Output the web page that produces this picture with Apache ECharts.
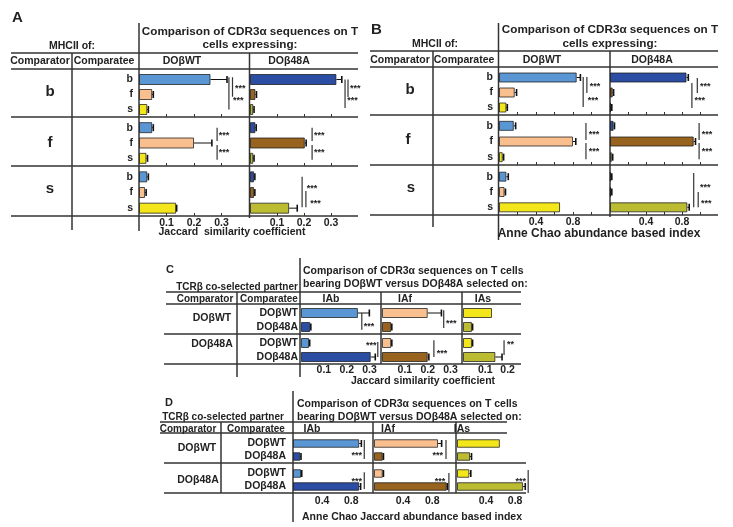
<!DOCTYPE html>
<html><head><meta charset="utf-8">
<script src="https://cdn.jsdelivr.net/npm/echarts@6/dist/echarts.min.js"></script>
<style>html,body{margin:0;padding:0;background:#fff}#c{width:733px;height:527px}</style>
</head><body><div id="c"></div>
<script>
const FONT = '"Liberation Sans", Arial, sans-serif';

// ---------------- DATA ----------------
const rowsAB = ['b', 'f', 's'];          // comparatee (panels A, B)
const groupsAB = ['b', 'f', 's'];        // comparator (panels A, B)
const rowsCD = ['DOβWT', 'DOβ48A'];      // comparatee (panels C, D)
const groupsCD = ['DOβWT', 'DOβ48A'];    // comparator (panels C, D)

// Panel A: Jaccard similarity coefficient, [comparator][comparatee]
const A_WT      = [[0.26, 0.048, 0.03], [0.048, 0.20, 0.027], [0.03, 0.022, 0.135]];
const A_WT_err  = [[0.06, 0.004, 0.004], [0.004, 0.065, 0.004], [0.004, 0.004, 0.002]];
const A_48A     = [[0.32, 0.02, 0.012], [0.02, 0.203, 0.012], [0.015, 0.015, 0.145]];
const A_48A_err = [[0.02, 0.004, 0.003], [0.003, 0.005, 0.003], [0.003, 0.003, 0.03]];

// Panel B: Anne Chao abundance based index
const B_WT      = [[0.84, 0.17, 0.08], [0.16, 0.80, 0.04], [0.08, 0.06, 0.66]];
const B_WT_err  = [[0.04, 0.02, 0.01], [0.02, 0.03, 0.01], [0.02, 0.01, 0.0]];
const B_48A     = [[0.85, 0.03, 0.01], [0.04, 0.93, 0.02], [0.01, 0.01, 0.86]];
const B_48A_err = [[0.02, 0.01, 0.01], [0.01, 0.02, 0.01], [0.01, 0.01, 0.02]];

// Panel C: Jaccard, per selecting MHC (IAb, IAf, IAs), [comparator][comparatee]
const C_IAb     = [[0.249, 0.04], [0.035, 0.305]];
const C_IAb_err = [[0.05, 0.003], [0.003, 0.02]];
const C_IAf     = [[0.20, 0.04], [0.04, 0.20]];
const C_IAf_err = [[0.06, 0.003], [0.003, 0.005]];
const C_IAs     = [[0.13, 0.04], [0.04, 0.145]];
const C_IAs_err = [[0.0, 0.003], [0.003, 0.03]];

// Panel D: Anne Chao Jaccard abundance based index
const D_IAb     = [[0.91, 0.10], [0.11, 0.91]];
const D_IAb_err = [[0.03, 0.01], [0.01, 0.02]];
const D_IAf     = [[0.88, 0.12], [0.12, 1.0]];
const D_IAf_err = [[0.05, 0.01], [0.01, 0.01]];
const D_IAs     = [[0.59, 0.18], [0.17, 0.91]];
const D_IAs_err = [[0.0, 0.02], [0.02, 0.03]];

// Tick labels
const ticksJacA = [0.1, 0.2, 0.3];
const ticksChaoB = [0.2, 0.4, 0.6, 0.8, 1.0];
const labelsChao = [0.4, 0.8];
const labelsJacIAs = [0.1, 0.2];

// Significance annotations: [block, x, rowFrom, rowTo]
const annLines = [
  ['A_WT_0', 0.327, -0.15, 2.0], ['A_WT_0', 0.340, -0.15, 1.15],
  ['A_48A_0', 0.352, 0.0, 1.9], ['A_48A_0', 0.363, 0.0, 1.17],
  ['A_WT_1', 0.284, 0.0, 0.87], ['A_WT_1', 0.284, 1.13, 2.1],
  ['A_48A_1', 0.23, 0.0, 0.87], ['A_48A_1', 0.23, 1.13, 2.1],
  ['A_48A_2', 0.193, 0.0, 1.94], ['A_48A_2', 0.207, 0.9, 1.94],
  ['B_WT_0', 0.91, -0.03, 1.97], ['B_WT_0', 0.95, -0.03, 1.03],
  ['B_48A_0', 0.91, 0.37, 2.03], ['B_48A_0', 0.97, 0.03, 1.03],
  ['B_WT_1', 0.94, -0.18, 0.91], ['B_WT_1', 0.94, 1.1, 2.13],
  ['B_48A_1', 0.99, -0.18, 0.91], ['B_48A_1', 0.99, 1.1, 2.13],
  ['B_48A_2', 0.93, -0.24, 2.0], ['B_48A_2', 0.98, 1.0, 2.0],
  ['C_IAb_0', 0.266, 0.0, 1.2], ['C_IAf_0', 0.27, -0.2, 1.07],
  ['C_IAb_1', 0.336, -0.07, 1.0], ['C_IAf_1', 0.227, -0.2, 1.0], ['C_IAs_1', 0.184, -0.2, 0.86],
  ['D_IAb_0', 0.98, -0.27, 1.2], ['D_IAf_0', 0.99, -0.27, 1.2],
  ['D_IAb_1', 0.98, -0.1, 1.2], ['D_IAf_1', 1.03, -0.04, 1.4], ['D_IAs_1', 0.98, -0.27, 1.5]
];
// [block, x, row, text, align]
const annStars = [
  ['A_WT_0', 0.349, 0.5, '***', 'left'], ['A_WT_0', 0.342, 1.3, '***', 'left'],
  ['A_48A_0', 0.37, 0.5, '***', 'left'], ['A_48A_0', 0.36, 1.3, '***', 'left'],
  ['A_WT_1', 0.29, 0.41, '***', 'left'], ['A_WT_1', 0.29, 1.46, '***', 'left'],
  ['A_48A_1', 0.237, 0.41, '***', 'left'], ['A_48A_1', 0.237, 1.46, '***', 'left'],
  ['A_48A_2', 0.21, 0.6, '***', 'left'], ['A_48A_2', 0.223, 1.6, '***', 'left'],
  ['B_WT_0', 0.98, 0.5, '***', 'left'], ['B_WT_0', 0.96, 1.37, '***', 'left'],
  ['B_48A_0', 1.0, 0.5, '***', 'left'], ['B_48A_0', 0.94, 1.37, '***', 'left'],
  ['B_WT_1', 0.97, 0.4, '***', 'left'], ['B_WT_1', 0.97, 1.5, '***', 'left'],
  ['B_48A_1', 1.02, 0.4, '***', 'left'], ['B_48A_1', 1.02, 1.5, '***', 'left'],
  ['B_48A_2', 1.0, 0.55, '***', 'left'], ['B_48A_2', 1.01, 1.6, '***', 'left'],
  ['C_IAb_0', 0.275, 0.85, '***', 'left'], ['C_IAf_0', 0.28, 0.64, '***', 'left'],
  ['C_IAb_1', 0.33, 0.07, '***', 'right'], ['C_IAf_1', 0.24, 0.64, '***', 'left'],
  ['C_IAs_1', 0.197, 0.0, '**', 'left'],
  ['D_IAb_0', 0.95, 0.8, '***', 'right'], ['D_IAf_0', 0.95, 0.8, '***', 'right'],
  ['D_IAb_1', 0.95, 0.5, '***', 'right'], ['D_IAf_1', 0.98, 0.5, '***', 'right'],
  ['D_IAs_1', 0.95, 0.5, '***', 'right']
];

// ---------------- STYLE / LAYOUT ----------------
const colWT = ['#5b96d4', '#f9bf8e', '#f3e71b'];
const col48 = ['#2c4da4', '#98621f', '#bcbc32'];
const INK = '#222';
const LINE = '#333';

const grids = [], xAxes = [], yAxes = [], series = [];
const blockIdx = {};

function errRender(params, api) {
  const v = api.value(0), i = api.value(1), e = api.value(2);
  if (!e) return null;
  const p0 = api.coord([v, i]), p1 = api.coord([v + e, i]);
  const h = 3.5;
  return { type: 'group', children: [
    { type: 'line', shape: { x1: p0[0], y1: p0[1], x2: p1[0], y2: p1[1] }, style: { stroke: '#111', lineWidth: 1 } },
    { type: 'line', shape: { x1: p1[0], y1: p1[1] - h, x2: p1[0], y2: p1[1] + h }, style: { stroke: '#111', lineWidth: 1.6 } }
  ]};
}

function addBlock(id, o) {
  const gi = grids.length; blockIdx[id] = gi;
  grids.push({ left: o.left, top: o.top, width: o.width, height: o.height });
  xAxes.push({
    type: 'value', gridIndex: gi, min: 0, max: o.max,
    axisLine: { show: false }, splitLine: { show: false },
    axisTick: { show: !!o.ticks, inside: true, length: 3, customValues: o.ticks || [], lineStyle: { color: LINE, width: 1 } },
    axisLabel: { show: !!o.labels, customValues: o.labels || [], margin: o.labelMargin, fontFamily: FONT,
      fontWeight: 'bold', fontSize: 10.5, color: INK }
  });
  yAxes.push({
    type: 'category', gridIndex: gi, data: o.cats, inverse: true,
    axisLine: { show: false }, axisTick: { show: false },
    axisLabel: { show: !!o.showCats, interval: 0, hideOverlap: false, margin: o.catMargin, fontFamily: FONT,
      fontWeight: 'bold', fontSize: 10.5, color: INK }
  });
  series.push({
    type: 'bar', xAxisIndex: gi, yAxisIndex: gi, barWidth: o.barWidth, silent: true, animation: false,
    itemStyle: { borderColor: 'rgba(25,25,25,0.75)', borderWidth: 1 },
    data: o.vals.map((v, i) => ({ value: v, itemStyle: { color: o.colors[i] } }))
  });
  series.push({
    type: 'custom', xAxisIndex: gi, yAxisIndex: gi, silent: true, animation: false, z: 3,
    encode: { x: 0, y: 1 }, data: o.vals.map((v, i) => [v, i, o.errs[i]]), renderItem: errRender
  });
}

// Panel A
const A_top = [72, 120, 169], A_h = [45, 46, 47];
groupsAB.forEach((g, k) => {
  addBlock('A_WT_' + k, { left: 139, top: A_top[k], width: 110, height: A_h[k], max: 0.4, cats: rowsAB,
    showCats: true, catMargin: 6, vals: A_WT[k], errs: A_WT_err[k], colors: colWT, ticks: ticksJacA,
    labels: k === 2 ? ticksJacA : null, labelMargin: 2, barWidth: 11 });
  addBlock('A_48A_' + k, { left: 250, top: A_top[k], width: 108, height: A_h[k], max: 0.4, cats: rowsAB,
    showCats: false, vals: A_48A[k], errs: A_48A_err[k], colors: col48, ticks: ticksJacA,
    labels: k === 2 ? ticksJacA : null, labelMargin: 2, barWidth: 11 });
});
// Panel B
const B_top = [70, 118, 169], B_h = [45, 47, 46];
groupsAB.forEach((g, k) => {
  addBlock('B_WT_' + k, { left: 499, top: B_top[k], width: 111, height: B_h[k], max: 1.2, cats: rowsAB,
    showCats: true, catMargin: 6, vals: B_WT[k], errs: B_WT_err[k], colors: colWT, ticks: ticksChaoB,
    labels: k === 2 ? labelsChao : null, labelMargin: 2, barWidth: 10 });
  addBlock('B_48A_' + k, { left: 610, top: B_top[k], width: 108, height: B_h[k], max: 1.2, cats: rowsAB,
    showCats: false, vals: B_48A[k], errs: B_48A_err[k], colors: col48, ticks: ticksChaoB,
    labels: k === 2 ? labelsChao : null, labelMargin: 2, barWidth: 10 });
});
// Panel C
const C_top = [306, 336], C_h = [28, 28];
groupsCD.forEach((g, k) => {
  addBlock('C_IAb_' + k, { left: 301, top: C_top[k], width: 80, height: C_h[k], max: 0.35, cats: rowsCD,
    showCats: true, catMargin: 3, vals: C_IAb[k], errs: C_IAb_err[k], colors: [colWT[0], col48[0]],
    labels: k === 1 ? ticksJacA : null, labelMargin: 1, barWidth: 10 });
  addBlock('C_IAf_' + k, { left: 382, top: C_top[k], width: 80, height: C_h[k], max: 0.35, cats: rowsCD,
    vals: C_IAf[k], errs: C_IAf_err[k], colors: [colWT[1], col48[1]],
    labels: k === 1 ? ticksJacA : null, labelMargin: 1, barWidth: 10 });
  addBlock('C_IAs_' + k, { left: 463, top: C_top[k], width: 58, height: C_h[k], max: 0.26, cats: rowsCD,
    vals: C_IAs[k], errs: C_IAs_err[k], colors: [colWT[2], col48[2]],
    labels: k === 1 ? labelsJacIAs : null, labelMargin: 1, barWidth: 10 });
});
// Panel D
const D_top = [437, 467], D_h = [26, 26];
groupsCD.forEach((g, k) => {
  addBlock('D_IAb_' + k, { left: 293, top: D_top[k], width: 80, height: D_h[k], max: 1.1, cats: rowsCD,
    showCats: true, catMargin: 7, vals: D_IAb[k], errs: D_IAb_err[k], colors: [colWT[0], col48[0]],
    labels: k === 1 ? labelsChao : null, labelMargin: 3, barWidth: 8.5 });
  addBlock('D_IAf_' + k, { left: 374, top: D_top[k], width: 80, height: D_h[k], max: 1.1, cats: rowsCD,
    vals: D_IAf[k], errs: D_IAf_err[k], colors: [colWT[1], col48[1]],
    labels: k === 1 ? labelsChao : null, labelMargin: 3, barWidth: 8.5 });
  addBlock('D_IAs_' + k, { left: 457, top: D_top[k], width: 69, height: D_h[k], max: 0.95, cats: rowsCD,
    vals: D_IAs[k], errs: D_IAs_err[k], colors: [colWT[2], col48[2]],
    labels: k === 1 ? labelsChao : null, labelMargin: 3, barWidth: 8.5 });
});

const chart = echarts.init(document.getElementById('c'));
chart.setOption({ animation: false, backgroundColor: '#fff', grid: grids, xAxis: xAxes, yAxis: yAxes, series: series });

// ---------------- TABLE STRUCTURE (lines & text) ----------------
const structLines = [
  // A
  [11, 53, 358, 53], [11, 69, 358, 69], [11, 117, 358, 117], [11, 166, 358, 166], [11, 216, 358, 216],
  [72, 53, 72, 230], [139, 23, 139, 231], [249.5, 53, 249.5, 218],
  // B
  [370, 51, 718, 51], [370, 67, 718, 67], [370, 115, 718, 115], [370, 165, 718, 165], [370, 215, 718, 215],
  [433, 51, 433, 227], [498.5, 23, 498.5, 240], [610, 51, 610, 217],
  // C
  [166, 292, 521, 292], [166, 304, 521, 304], [164, 334, 521, 334], [164, 364, 521, 364],
  [237, 292, 237, 377], [300, 258, 300, 377], [381, 292, 381, 364], [462, 292, 462, 364],
  // D
  [160, 422, 507, 422], [160, 433, 507, 433], [164, 463, 526, 463], [164, 493, 526, 493],
  [221, 422, 221, 493], [293, 391, 293, 522], [373, 422, 373, 493], [456, 422, 456, 493]
];
// [x, y, text, size, align]
const structText = [
  [12, 18, 'A', 15, 'left'],
  [250, 32, 'Comparison of CDR3α sequences on T', 11.7, 'center'],
  [250, 45, 'cells expressing:', 11.7, 'center'],
  [72, 46, 'MHCII of:', 10.5, 'center'],
  [40, 61, 'Comparator', 10.5, 'center'], [104, 61, 'Comparatee', 10.5, 'center'],
  [182, 61, 'DOβWT', 10.5, 'center'], [289, 61, 'DOβ48A', 10.5, 'center'],
  [50, 92, 'b', 15, 'center'], [50, 143, 'f', 15, 'center'], [50, 189, 's', 15, 'center'],
  [232, 232, 'Jaccard  similarity coefficient', 10.5, 'center'],

  [371, 30, 'B', 15, 'left'],
  [610, 30, 'Comparison of CDR3α sequences on T', 11.7, 'center'],
  [610, 44, 'cells expressing:', 11.7, 'center'],
  [435, 44, 'MHCII of:', 10.5, 'center'],
  [400, 60, 'Comparator', 10.5, 'center'], [464, 60, 'Comparatee', 10.5, 'center'],
  [542, 60, 'DOβWT', 10.5, 'center'], [652, 60, 'DOβ48A', 10.5, 'center'],
  [410, 90, 'b', 15, 'center'], [408, 140, 'f', 15, 'center'], [411, 188, 's', 15, 'center'],
  [599, 234, 'Anne Chao abundance based index', 12, 'center'],

  [166, 270, 'C', 11, 'left'],
  [237, 287, 'TCRβ co-selected partner', 10, 'center'],
  [303, 271, 'Comparison of CDR3α sequences on T cells', 10.5, 'left'],
  [303, 284, 'bearing DOβWT versus DOβ48A selected on:', 10.5, 'left'],
  [205, 299, 'Comparator', 10, 'center'], [269, 299, 'Comparatee', 10, 'center'],
  [331, 299, 'IAb', 10.5, 'center'], [405, 299, 'IAf', 10.5, 'center'], [483, 299, 'IAs', 10.5, 'center'],
  [212, 318, 'DOβWT', 10.5, 'center'], [212, 344, 'DOβ48A', 10.5, 'center'],
  [423, 381, 'Jaccard similarity coefficient', 10.5, 'center'],

  [165, 403, 'D', 11, 'left'],
  [223, 417, 'TCRβ co-selected partner', 10, 'center'],
  [297, 404, 'Comparison of CDR3α sequences on T cells', 10.5, 'left'],
  [297, 417, 'bearing DOβWT versus DOβ48A selected on:', 10.5, 'left'],
  [188, 429, 'Comparator', 10, 'center'], [256, 429, 'Comparatee', 10, 'center'],
  [312, 429, 'IAb', 10.5, 'center'], [388, 429, 'IAf', 10.5, 'center'], [462, 429, 'IAs', 10.5, 'center'],
  [197, 448, 'DOβWT', 10.5, 'center'], [198, 480, 'DOβ48A', 10.5, 'center'],
  [412, 517, 'Anne Chao Jaccard abundance based index', 10.5, 'center']
];

const graphics = [];
structLines.forEach(l => graphics.push({ type: 'line', silent: true,
  shape: { x1: l[0], y1: l[1], x2: l[2], y2: l[3] }, style: { stroke: LINE, lineWidth: 1.5 } }));
structText.forEach(t => graphics.push({ type: 'text', silent: true,
  style: { x: t[0], y: t[1], text: t[2], font: 'bold ' + t[3] + 'px ' + FONT, fill: INK,
    textAlign: t[4], textVerticalAlign: 'middle' } }));

// annotation positions via the chart's own coordinate systems
function toPx(block, x, r) {
  const gi = blockIdx[block];
  const p0 = chart.convertToPixel({ gridIndex: gi }, [x, 0]);
  const p1 = chart.convertToPixel({ gridIndex: gi }, [x, 1]);
  return [p0[0], p0[1] + r * (p1[1] - p0[1])];
}
annLines.forEach(a => {
  const p = toPx(a[0], a[1], a[2]), q = toPx(a[0], a[1], a[3]);
  graphics.push({ type: 'line', silent: true, z: 10,
    shape: { x1: p[0], y1: p[1], x2: q[0], y2: q[1] }, style: { stroke: LINE, lineWidth: 1.2 } });
});
annStars.forEach(a => {
  const p = toPx(a[0], a[1], a[2]);
  graphics.push({ type: 'text', silent: true, z: 10,
    style: { x: p[0], y: p[1] + 2, text: a[3], font: 'bold 9px ' + FONT, fill: INK,
      textAlign: a[4], textVerticalAlign: 'middle' } });
});
chart.setOption({ graphic: graphics });
</script></body></html>
